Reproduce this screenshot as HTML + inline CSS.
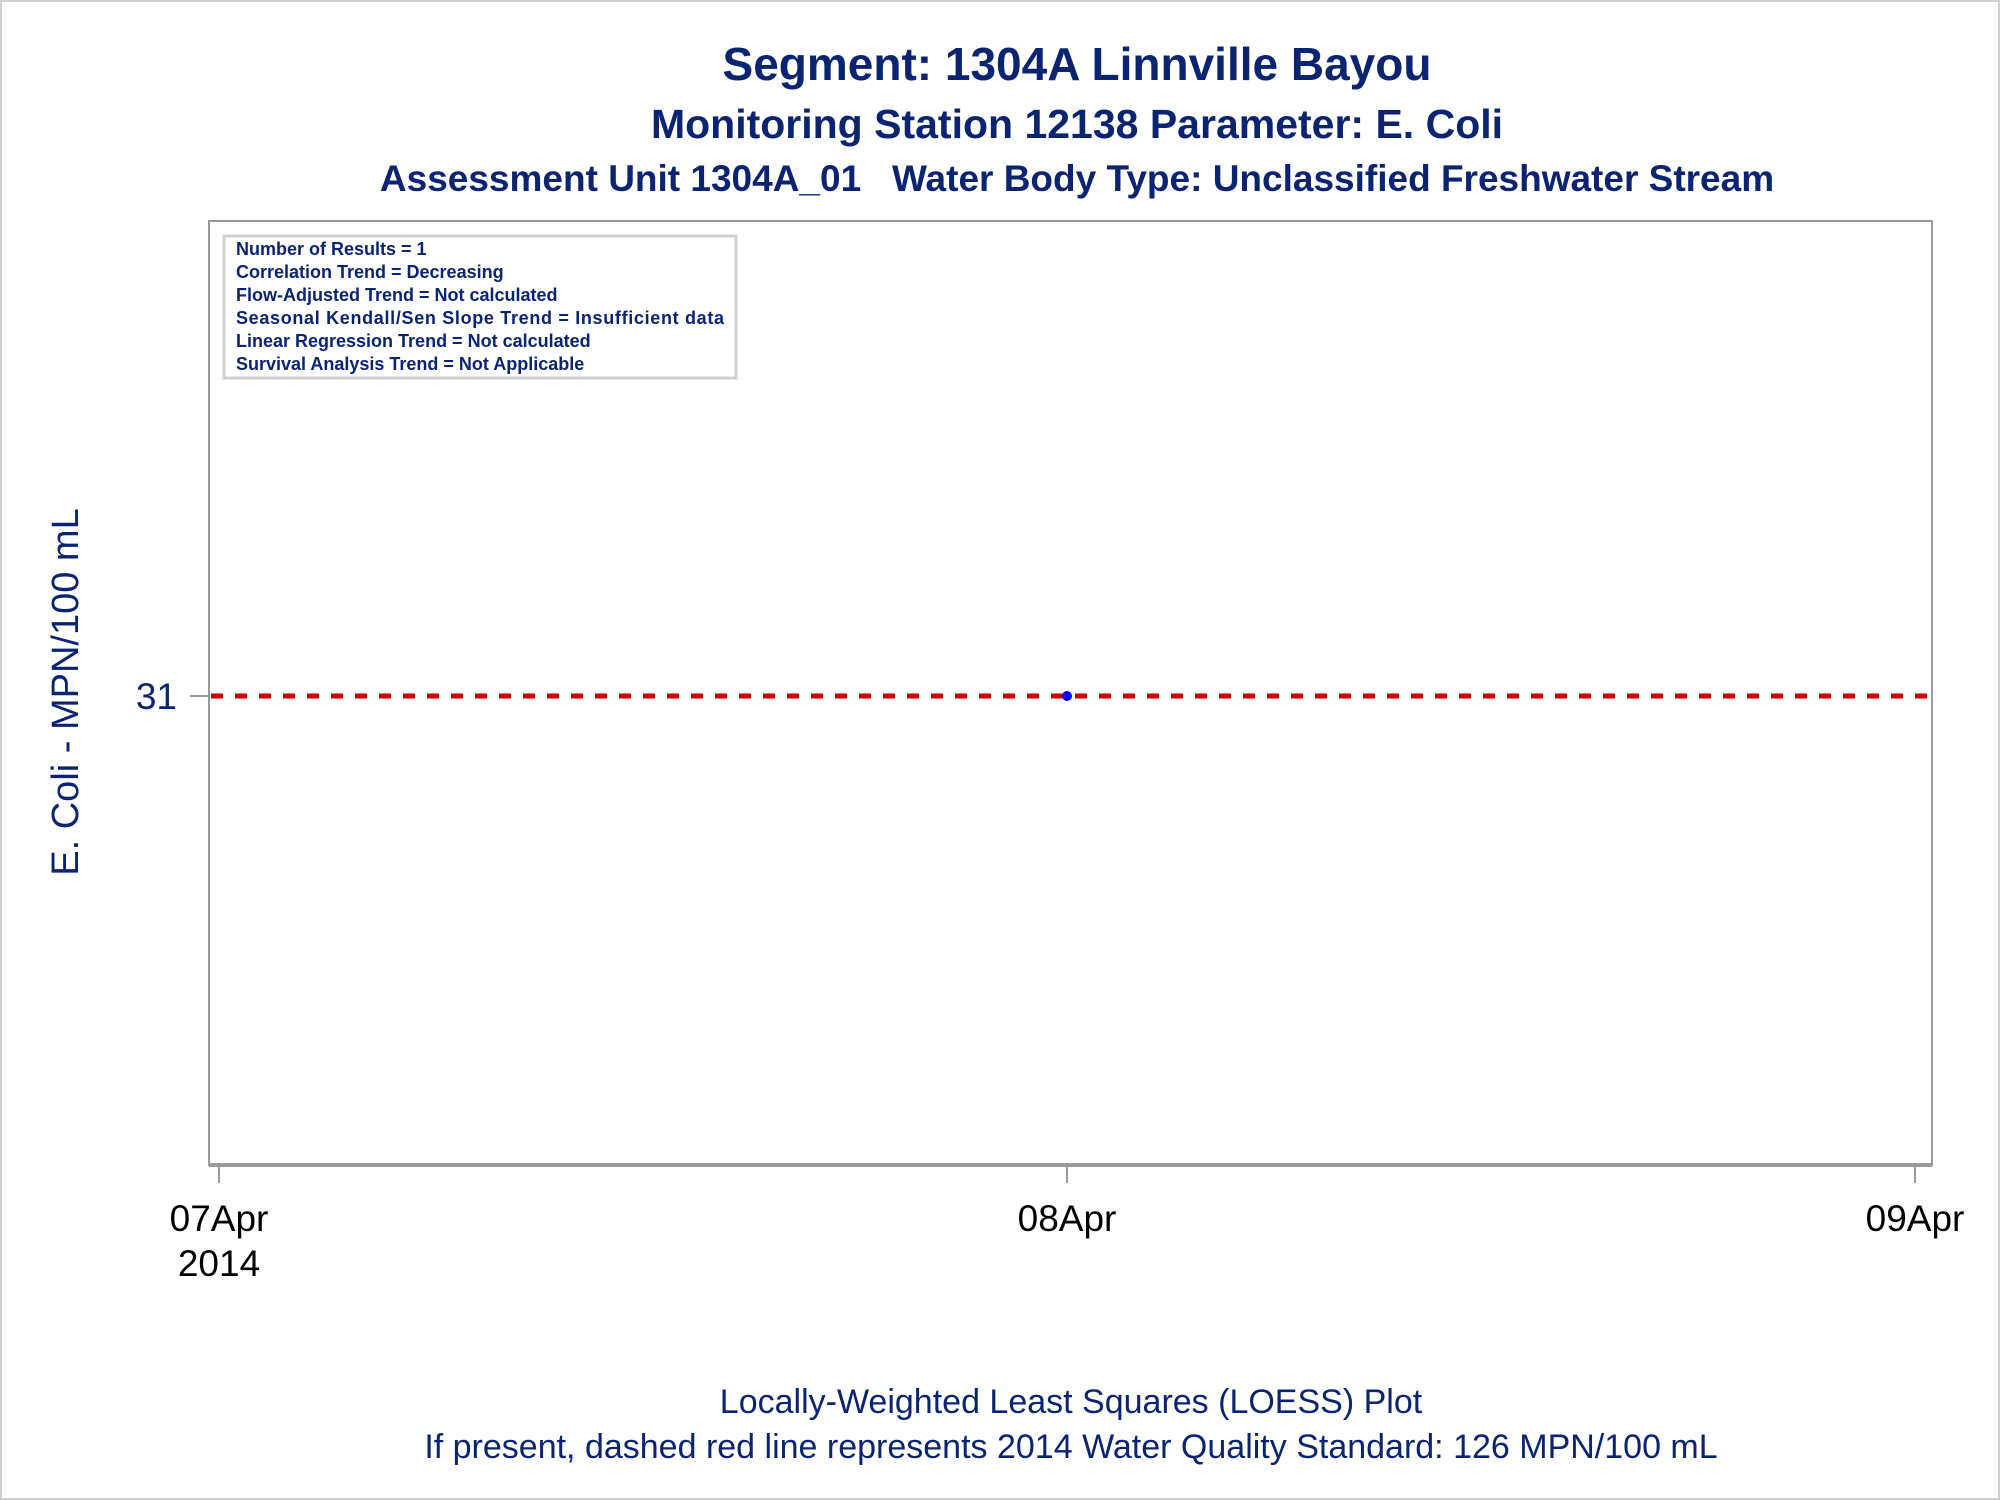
<!DOCTYPE html>
<html><head><meta charset="utf-8"><style>
html,body{margin:0;padding:0;background:#fff}
svg{display:block;font-family:"Liberation Sans",Arial,sans-serif}
</style></head><body>
<svg width="2000" height="1500" viewBox="0 0 2000 1500" xmlns="http://www.w3.org/2000/svg">
<rect x="1" y="1" width="1998" height="1498" fill="#fff" stroke="#d0d0d0" stroke-width="2"/>
<g fill="#0a2472" font-weight="bold" text-anchor="middle">
<text x="1077" y="80" font-size="46">Segment: 1304A  Linnville Bayou</text>
<text x="1077" y="138" font-size="41">Monitoring Station 12138 Parameter: E. Coli</text>
<text x="1077" y="191" font-size="37" xml:space="preserve">Assessment Unit 1304A_01   Water Body Type: Unclassified Freshwater Stream</text>
</g>
<rect x="209" y="221" width="1723" height="944" fill="none" stroke="#9a9a9a" stroke-width="2"/>
<line x1="209" y1="1165" x2="1932" y2="1165" stroke="#9a9a9a" stroke-width="4"/>
<rect x="224" y="236" width="512" height="142" fill="#fff" stroke="#d0d0d0" stroke-width="3"/>
<g fill="#0a2472" font-weight="bold" font-size="18">
<text x="236" y="255">Number of Results = 1</text>
<text x="236" y="278">Correlation Trend = Decreasing</text>
<text x="236" y="301">Flow-Adjusted Trend = Not calculated</text>
<text x="236" y="324" textLength="488">Seasonal Kendall/Sen Slope Trend = Insufficient data</text>
<text x="236" y="347">Linear Regression Trend = Not calculated</text>
<text x="236" y="370">Survival Analysis Trend = Not Applicable</text>
</g>
<text transform="translate(78,692) rotate(-90)" text-anchor="middle" font-size="38" fill="#0a2472">E. Coli - MPN/100 mL</text>
<g id="xaxis"></g>
<g id="yaxis"></g>
<g id="marks"></g>
<g fill="#0a2472" font-size="34" text-anchor="middle">
<text x="1071" y="1413">Locally-Weighted Least Squares (LOESS) Plot</text>
<text x="1071" y="1458">If present, dashed red line represents 2014 Water Quality Standard: 126 MPN/100 mL</text>
</g>
</svg>
<script>
const xTickLabels = ["07Apr", "08Apr", "09Apr"];
const xTickDays = [0, 1, 2];
const yTickValues = [31];
const pointDays = [1];
const pointValues = [31];
const standardValue = [31];

const NS = "http://www.w3.org/2000/svg";
const xScale = d => 219 + (d - 0) * (1915 - 219) / 2;
const yScale = v => 696 + (31 - v) * 10;
function mk(tag, attrs, parent) {
  const e = document.createElementNS(NS, tag);
  for (const k in attrs) e.setAttribute(k, attrs[k]);
  parent.appendChild(e);
  return e;
}
const xg = document.getElementById('xaxis');
xTickDays.forEach((d, i) => {
  const x = xScale(d);
  const t = mk('line', {x1: x, x2: x, y1: 1167, y2: 1183, stroke: '#9a9a9a', 'stroke-width': 2}, xg);
  
  
  const lb = mk('text', {x: x, y: 1231, 'text-anchor': 'middle', 'font-size': 37, fill: '#000'}, xg);
  lb.textContent = xTickLabels[i];
  
  
  if (i === 0) {
    const yr = mk('text', {x: x, y: 1276, 'text-anchor': 'middle', 'font-size': 37, fill: '#000'}, xg);
    yr.textContent = '2014';
    
    
  }
});
const yg = document.getElementById('yaxis');
yTickValues.forEach(v => {
  const y = yScale(v);
  const t = mk('line', {x1: 190, x2: 209, y1: y, y2: y, stroke: '#9a9a9a', 'stroke-width': 2}, yg);
  
  
  const lb = mk('text', {x: 177, y: y + 13, 'text-anchor': 'end', 'font-size': 37, fill: '#0a2472'}, yg);
  lb.textContent = String(v);
  
  
});
const mg = document.getElementById('marks');
standardValue.forEach(v => {
  const y = yScale(v);
  const l = mk('line', {x1: 211, x2: 1930, y1: y, y2: y, stroke: '#cc0000', 'stroke-width': 5, 'stroke-dasharray': '12 12'}, mg);
  
  
});
pointDays.forEach((d, i) => {
  const c = mk('circle', {cx: xScale(d), cy: yScale(pointValues[i]), r: 5, fill: '#0000ff'}, mg);
  
  
});
</script>
</body></html>
